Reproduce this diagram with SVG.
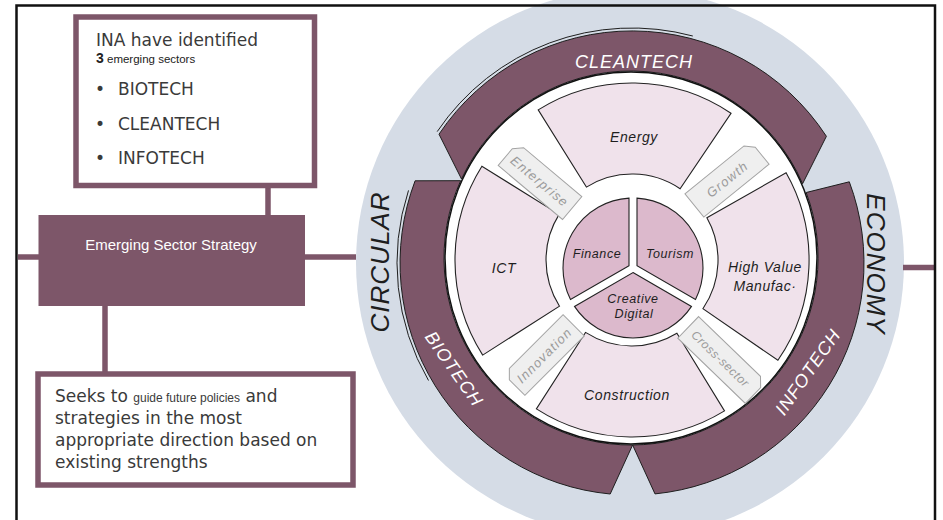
<svg xmlns="http://www.w3.org/2000/svg" width="943" height="520" viewBox="0 0 943 520">
<defs>
<style>
.band{fill:#7d5669;stroke:#1e1e1e;stroke-width:1}
.sector{fill:#f0e2eb;stroke:#222;stroke-width:1.1}
.pie{fill:#dcb9cc;stroke:#222;stroke-width:1.1}
.tag{fill:#efefef;stroke:#a3a3a3;stroke-width:1}
.hand{font-family:"Liberation Sans","DejaVu Sans",sans-serif;font-style:italic}
.lbl{font-size:14px;fill:#1e1e1e;text-anchor:middle;letter-spacing:0.6px}
.taglbl{font-size:13px;fill:#9b9b9b;text-anchor:middle;letter-spacing:1.2px}
.bandlbl{font-size:18px;fill:#ffffff;text-anchor:middle;letter-spacing:1px}
.big{font-size:26px;fill:#1e1e1e;text-anchor:middle;letter-spacing:1px}
.conn{stroke:#7d5669;stroke-width:5.5;fill:none}
.box{fill:#ffffff;stroke:#7d5669;stroke-width:5.5}
.body{font-family:"DejaVu Sans","Liberation Sans",sans-serif;font-size:17px;fill:#3a3a3a}
.small{font-family:"Liberation Sans",sans-serif}
.sketch{fill:none;stroke:#1e1e1e;stroke-width:1}
</style>
<polygon id="tagL" points="-42,-7 -34,-15 42,-15 42,15 -42,15"/>
<polygon id="tagR" points="-42,-15 34,-15 42,-7 42,15 -42,15"/>
<polygon id="tagRlong" points="-47,-15 39,-15 47,-7 47,15 -47,15"/>
</defs>

<g id="wheel">
  <circle cx="630" cy="263" r="274" fill="#d5dce6"/>
  <g id="band-cleantech">
    <path class="band" d="M 439,134.2 A 232 232 0 0 1 826.4,136.3 L 802.6,183.7 A 187 187 0 0 0 461.5,179 Z"/>
    <path class="sketch" d="M 437.2,131.6 A 235 235 0 0 1 692.8,36"/>
    <text class="hand bandlbl" x="634" y="68">CLEANTECH</text>
  </g>
  <g id="band-biotech">
    <path class="band" d="M 415.1,180.8 L 460.7,180.7 A 187 187 0 0 0 632.6,445 L 610.2,494 A 232 232 0 0 1 415.1,180.8 Z"/>
    <path class="sketch" d="M 408.5,190.4 A 235 235 0 0 0 428.5,380.5"/>
    <text class="hand bandlbl" transform="translate(454,369) rotate(55)" y="6">BIOTECH</text>
  </g>
  <g id="band-infotech">
    <path class="band" d="M 806.2,192.5 L 849.3,181.8 A 232 232 0 0 1 655,493.9 L 632.6,445 A 187 187 0 0 0 806.2,192.5 Z"/>
    <text class="hand bandlbl" transform="translate(808,372) rotate(-55)" y="6">INFOTECH</text>
  </g>
  <text class="hand big" transform="translate(389,262) rotate(-90)">CIRCULAR</text>
  <text class="hand big" transform="translate(867,264) rotate(90)">ECONOMY</text>

  <circle cx="631" cy="258" r="186" fill="#ffffff" stroke="#111" stroke-width="1.5"/>

  <g id="sector-energy">
    <path class="sector" d="M 538.2,109.9 A 177 177 0 0 1 731.0,113.3 L 680.1,188.7 A 86 86 0 0 0 586.4,187.1 Z"/>
    <text class="hand lbl" x="634" y="142">Energy</text>
  </g>
  <g id="sector-hvm">
    <path class="sector" d="M 786.1,172.8 A 177 177 0 0 1 777.9,360.3 L 702.9,308.7 A 86 86 0 0 0 706.9,217.7 Z"/>
    <text class="hand lbl" x="765" y="272">High Value</text>
    <text class="hand lbl" x="765" y="291">Manufac·</text>
  </g>
  <g id="sector-construction">
    <path class="sector" d="M 724.5,410.9 A 177 177 0 0 1 536.4,408.9 L 585.5,332.4 A 86 86 0 0 0 676.9,333.3 Z"/>
    <text class="hand lbl" x="627" y="400">Construction</text>
  </g>
  <g id="sector-ict">
    <path class="sector" d="M 482.7,355.1 A 177 177 0 0 1 481.9,166.2 L 559.1,214.4 A 86 86 0 0 0 559.5,306.2 Z"/>
    <text class="hand lbl" x="504" y="273">ICT</text>
  </g>

  <g id="core-finance">
    <path class="pie" d="M 629,265.7 L 570.5,299.5 A 70 70 0 0 1 629,198.1 Z"/>
    <text class="hand lbl" style="font-size:12.5px" x="597" y="258">Finance</text>
  </g>
  <g id="core-tourism">
    <path class="pie" d="M 637,265.7 L 637,198.1 A 70 70 0 0 1 695.5,299.5 Z"/>
    <text class="hand lbl" style="font-size:12.5px" x="670" y="258">Tourism</text>
  </g>
  <g id="core-creative">
    <path class="pie" d="M 633,272.6 L 691.5,306.4 A 70 70 0 0 1 574.5,306.4 Z"/>
    <text class="hand lbl" style="font-size:12.5px" x="633" y="303">Creative</text>
    <text class="hand lbl" style="font-size:12.5px" x="634" y="318">Digital</text>
  </g>

  <g id="tag-enterprise" transform="translate(540,181) rotate(40)">
    <use href="#tagL" class="tag"/>
    <text class="hand taglbl" y="5">Enterprise</text>
  </g>
  <g id="tag-growth" transform="translate(727,179) rotate(-39)">
    <use href="#tagR" class="tag"/>
    <text class="hand taglbl" y="5">Growth</text>
  </g>
  <g id="tag-innovation" transform="translate(544,355) rotate(-45)">
    <use href="#tagL" class="tag"/>
    <text class="hand taglbl" y="5">Innovation</text>
  </g>
  <g id="tag-crosssector" transform="translate(722,360) rotate(44)">
    <use href="#tagRlong" class="tag"/>
    <text class="hand taglbl" style="font-size:12px;letter-spacing:0.6px" x="-2" y="4.5">Cross-sector</text>
  </g>
</g>

<g id="connectors">
  <line class="conn" x1="268" y1="186" x2="268" y2="216"/>
  <line class="conn" x1="18" y1="257" x2="39" y2="257"/>
  <line class="conn" x1="304" y1="257" x2="356" y2="257"/>
  <line class="conn" x1="105" y1="305" x2="105" y2="373"/>
  <line class="conn" x1="903" y1="267.5" x2="935" y2="267.5"/>
</g>

<g id="node-sectors">
  <rect class="box" x="76" y="17" width="238.5" height="168.5"/>
  <text class="body" x="96" y="46">INA have identified</text>
  <text x="96" y="63" fill="#222"><tspan class="small" font-weight="bold" font-size="14">3</tspan><tspan class="small" font-size="11.5"> emerging sectors</tspan></text>
  <text class="body" x="95" y="95">•</text>
  <text class="body" x="118" y="95">BIOTECH</text>
  <text class="body" x="95" y="130">•</text>
  <text class="body" x="118" y="130">CLEANTECH</text>
  <text class="body" x="95" y="164">•</text>
  <text class="body" x="118" y="164">INFOTECH</text>
</g>

<g id="node-strategy">
  <rect x="38.5" y="215" width="266.5" height="91" fill="#7d5669"/>
  <text x="171" y="250" font-family="Liberation Sans, sans-serif" font-size="15" fill="#ffffff" text-anchor="middle">Emerging Sector Strategy</text>
</g>

<g id="node-description">
  <rect class="box" x="38" y="374" width="315" height="111"/>
  <text class="body" x="55" y="402">Seeks to <tspan class="small" font-size="12">guide future policies</tspan> and</text>
  <text class="body" x="55" y="424">strategies in the most</text>
  <text class="body" x="55" y="446">appropriate direction based on</text>
  <text class="body" x="55" y="468">existing strengths</text>
</g>

<rect x="16.5" y="5.5" width="918.5" height="530" fill="none" stroke="#111" stroke-width="2.5"/>
</svg>
